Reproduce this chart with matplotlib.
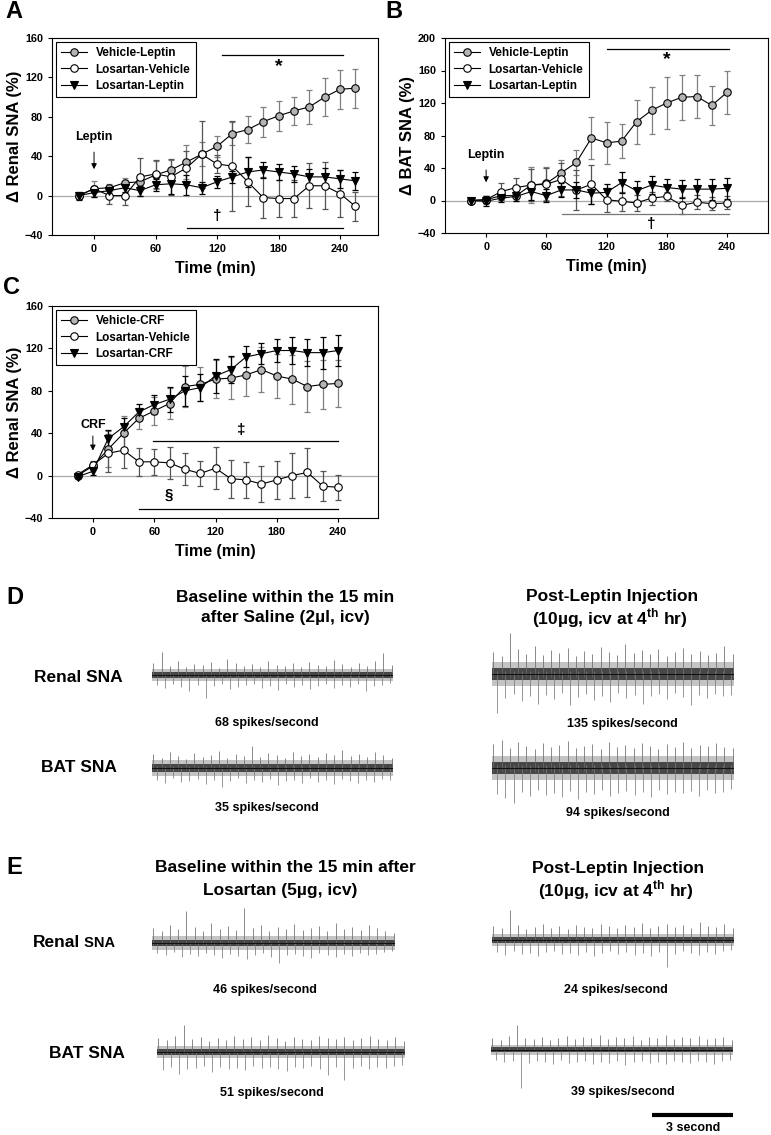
import matplotlib.pyplot as plt
import numpy as np

plt.rcParams['font.family'] = ['Liberation Sans', 'DejaVu Sans']
plt.rcParams['font.weight'] = 'bold'
plt.rcParams['axes.labelweight'] = 'bold'
plt.rcParams['mathtext.fontset'] = 'custom'
plt.rcParams['mathtext.rm'] = 'Liberation Sans:bold'
plt.rcParams['mathtext.bf'] = 'Liberation Sans:bold'

# ---- group data (percent change, mean and SEM) ----
time_a = [-15, 0, 15, 30, 45, 60, 75, 90, 105, 120, 135, 150, 165, 180, 195, 210, 225, 240, 255]
a_veh_lep = [0, 7, 8, 13, 14, 21, 26, 34, 42, 50, 63, 67, 75, 81, 86, 90, 100, 108, 109]
a_veh_lep_err = [0, 8, 4, 5, 8, 14, 10, 17, 12, 11, 12, 14, 15, 15, 14, 17, 19, 20, 20]
a_los_veh = [0, 7, 0, 0, 19, 22, 19, 28, 42, 32, 30, 14, -2, -3, -3, 10, 10, 2, -11]
a_los_veh_err = [0, 3, 9, 10, 19, 14, 18, 17, 34, 9, 46, 25, 21, 19, 19, 23, 24, 24, 15]
a_los_lep = [0, 3, 5, 8, 5, 11, 12, 11, 8, 14, 19, 24, 26, 24, 22, 19, 19, 17, 15]
a_los_lep_err = [4, 4, 5, 4, 5, 6, 10, 10, 6, 6, 6, 15, 8, 8, 8, 8, 9, 9, 9]

time_bc = [-15, 0, 15, 30, 45, 60, 75, 90, 105, 120, 135, 150, 165, 180, 195, 210, 225, 240]
b_veh_lep = [0, 1, 6, 6, 19, 21, 34, 47, 77, 71, 73, 97, 111, 120, 127, 128, 117, 133]
b_veh_lep_err = [0, 5, 5, 6, 22, 20, 16, 15, 26, 26, 21, 27, 29, 32, 28, 26, 24, 27]
b_los_veh = [0, 1, 11, 16, 19, 20, 26, 13, 20, 1, -1, -3, 3, 5, -6, -2, -4, -3]
b_los_veh_err = [0, 4, 10, 12, 20, 20, 20, 25, 24, 15, 12, 10, 8, 6, 10, 9, 8, 8]
b_los_lep = [0, -1, 3, 5, 11, 6, 13, 13, 9, 10, 22, 12, 19, 16, 14, 14, 14, 15]
b_los_lep_err = [0, 6, 5, 6, 10, 8, 9, 10, 13, 10, 13, 12, 11, 11, 11, 12, 13, 13]

c_veh_crf = [0, 9, 25, 40, 54, 61, 68, 84, 86, 91, 92, 95, 100, 94, 91, 84, 86, 87]
c_veh_crf_err = [0, 4, 17, 16, 10, 13, 15, 19, 16, 18, 20, 20, 21, 21, 23, 24, 23, 22]
c_los_veh = [1, 10, 21, 24, 13, 13, 12, 6, 2, 7, -3, -4, -8, -4, 0, 3, -10, -11]
c_los_veh_err = [0, 4, 18, 17, 13, 12, 15, 15, 12, 20, 18, 17, 17, 18, 21, 23, 14, 12]
c_los_crf = [-1, 4, 35, 46, 60, 67, 72, 80, 83, 94, 100, 112, 115, 118, 118, 116, 116, 118]
c_los_crf_err = [0, 3, 8, 8, 8, 9, 12, 14, 13, 16, 13, 10, 10, 11, 13, 13, 15, 15]

# significance bars: (start, end, y, symbol, symbol x, symbol y, colour)
sig_a = [(125, 243, 143, '*', 180, 131, 'k'), (91, 243, -32.5, '\u2020', 120, -21, 'k')]
sig_b = [(120, 242, 187, '*', 180, 174, 'k'), (76, 242, -16.5, '\u2020', 165, -29, '#777777')]
sig_c = [(59, 240, 33, '\u2021', 145, 43, 'k'), (45, 240, -31.7, '\u00a7', 74, -18, 'k')]

# ---- nerve recordings (9 s sweeps, spike amplitudes in a.u.) ----
trace_sec = 9.0
d_renal_base_up = [12, 23, 9, 14, 8, 11, 10, 13, 7, 16, 12, 9, 11, 8, 14, 10, 9, 12, 8, 13, 10, 9, 15, 11, 8, 12, 9, 14, 22, 10]
d_renal_base_dn = [10, 13, 9, 12, 16, 10, 23, 11, 9, 14, 12, 10, 9, 13, 11, 15, 9, 12, 10, 14, 11, 9, 13, 10, 12, 9, 16, 11, 10, 8]
d_bat_base_up = [14, 10, 16, 12, 9, 15, 11, 13, 17, 10, 14, 12, 22, 11, 15, 13, 10, 16, 12, 14, 11, 15, 13, 18, 12, 14, 11, 16, 13, 10]
d_bat_base_dn = [12, 15, 10, 14, 13, 11, 16, 12, 19, 13, 10, 15, 12, 14, 11, 17, 13, 12, 15, 10, 14, 12, 16, 11, 13, 15, 12, 14, 11, 12]
d_renal_post_up = [22, 18, 41, 25, 20, 28, 19, 24, 21, 26, 18, 23, 20, 27, 22, 19, 30, 21, 24, 20, 25, 18, 22, 26, 20, 23, 19, 21, 28, 20]
d_renal_post_dn = [39, 24, 20, 27, 22, 30, 21, 25, 19, 31, 23, 20, 26, 22, 28, 19, 24, 21, 30, 22, 20, 25, 19, 23, 31, 21, 24, 20, 22, 21]
d_bat_post_up = [24, 28, 20, 26, 22, 19, 25, 21, 23, 27, 20, 22, 24, 19, 26, 21, 23, 20, 25, 22, 19, 24, 21, 26, 20, 23, 22, 25, 21, 20]
d_bat_post_dn = [26, 30, 35, 24, 28, 22, 27, 25, 29, 23, 31, 24, 26, 22, 28, 25, 23, 27, 24, 29, 22, 26, 24, 25, 23, 28, 22, 25, 24, 21]
e_renal_base_up = [15, 12, 18, 14, 32, 16, 12, 20, 14, 17, 13, 35, 15, 18, 12, 16, 14, 19, 13, 15, 17, 12, 20, 14, 16, 13, 18, 15, 12, 10]
e_renal_base_dn = [10, 12, 9, 14, 11, 13, 10, 12, 15, 11, 13, 16, 12, 10, 14, 20, 12, 11, 13, 15, 10, 12, 14, 11, 13, 10, 12, 11, 9, 8]
e_bat_base_up = [14, 12, 16, 27, 13, 15, 11, 14, 12, 16, 13, 15, 12, 17, 14, 11, 15, 13, 12, 16, 14, 13, 15, 12, 14, 16, 13, 12, 15, 11]
e_bat_base_dn = [18, 15, 22, 17, 16, 14, 20, 15, 17, 16, 18, 14, 16, 15, 17, 19, 15, 16, 14, 17, 23, 15, 28, 16, 14, 17, 15, 16, 14, 13]
e_renal_post_up = [14, 12, 30, 15, 11, 13, 16, 12, 14, 11, 15, 13, 12, 16, 14, 12, 15, 13, 17, 12, 14, 16, 13, 15, 12, 18, 14, 13, 16, 12]
e_renal_post_dn = [12, 15, 11, 14, 13, 16, 12, 11, 14, 13, 15, 12, 16, 13, 11, 14, 12, 15, 13, 16, 12, 27, 14, 11, 13, 15, 12, 14, 11, 10]
e_bat_post_up = [12, 10, 14, 25, 12, 11, 13, 10, 12, 14, 11, 13, 12, 15, 11, 13, 12, 14, 10, 13, 12, 15, 11, 13, 12, 14, 11, 12, 13, 10]
e_bat_post_dn = [10, 12, 11, 38, 13, 11, 12, 14, 10, 13, 12, 11, 14, 12, 13, 11, 15, 12, 11, 13, 12, 14, 11, 12, 13, 11, 12, 14, 11, 10]
spike_rates = {'d_renal_base': 68, 'd_renal_post': 135, 'd_bat_base': 35, 'd_bat_post': 94,
               'e_renal_base': 46, 'e_renal_post': 24, 'e_bat_base': 51, 'e_bat_post': 39}

W, H = 771, 1135
fig = plt.figure(figsize=(W / 100, H / 100), dpi=100)


def box(l, t, r, b):
    # pixel box -> figure fraction
    return [l / W, 1 - b / H, (r - l) / W, (b - t) / H]


def ftext(x, y, s, **kw):
    kw.setdefault('ha', 'center')
    kw.setdefault('va', 'center')
    return fig.text(x / W, 1 - y / H, s, **kw)


styles = {
    'veh': dict(marker='o', mfc='#b4b4b4', mec='k', ecolor='#808080'),
    'losveh': dict(marker='o', mfc='white', mec='k', ecolor='#555555'),
    'loslep': dict(marker='v', mfc='k', mec='k', ecolor='k'),
}


def panel(rect, t, series, xlim, ylim, ylabel, sig, drug, drug_y, arrow_y):
    ax = fig.add_axes(box(*rect))
    ax.axhline(0, color='#a8a8a8', lw=0.9, zorder=1)
    handles = []
    for y, e, label, key in series:
        st = styles[key]
        ax.errorbar(t, y, yerr=e, fmt='none', ecolor=st['ecolor'], elinewidth=0.9,
                    capsize=2.5, capthick=0.9, zorder=2)
    for y, e, label, key in series:
        st = styles[key]
        h, = ax.plot(t, y, '-', color='k', lw=0.8, marker=st['marker'], ms=5.4,
                     mfc=st['mfc'], mec=st['mec'], mew=0.8, label=label, zorder=3)
        handles.append(h)
    for x0, x1, yy, sym, sx, sy, col in sig:
        ax.plot([x0, x1], [yy, yy], color=col, lw=0.9)
        ax.text(sx, sy, sym, ha='center', va='center', fontsize=14 if sym == '*' else 11)
    ax.text(0, drug_y, drug, ha='center', va='center', fontsize=9)
    ax.annotate('', xy=(0, arrow_y[1]), xytext=(0, arrow_y[0]),
                arrowprops=dict(arrowstyle='-|>', color='k', lw=0.7, mutation_scale=8))
    ax.set_xlim(*xlim)
    ax.set_ylim(ylim[0], ylim[1])
    ax.set_yticks(np.arange(ylim[0], ylim[1] + 1, 40))
    ax.set_xticks([0, 60, 120, 180, 240])
    ax.tick_params(direction='out', length=3, width=0.8, labelsize=7.8)
    for sp in ax.spines.values():
        sp.set_linewidth(0.8)
    ax.set_ylabel(ylabel, fontsize=12, labelpad=1.5)
    ax.set_xlabel('Time (min)', fontsize=11.5, labelpad=5)
    leg = ax.legend(handles=handles, loc='upper left', fontsize=8.5, frameon=True, fancybox=False,
                    edgecolor='k', framealpha=1, borderaxespad=0.35, handlelength=2.2,
                    handletextpad=0.7, labelspacing=0.35, borderpad=0.45)
    leg.get_frame().set_linewidth(0.8)
    return ax


panel((52, 38, 378, 235), time_a,
      [(a_veh_lep, a_veh_lep_err, 'Vehicle-Leptin', 'veh'),
       (a_los_veh, a_los_veh_err, 'Losartan-Vehicle', 'losveh'),
       (a_los_lep, a_los_lep_err, 'Losartan-Leptin', 'loslep')],
      (-41, 277), (-40, 160), '\u0394 Renal SNA (%)', sig_a, 'Leptin', 59, (47, 24))
panel((445, 38, 768, 233), time_bc,
      [(b_veh_lep, b_veh_lep_err, 'Vehicle-Leptin', 'veh'),
       (b_los_veh, b_los_veh_err, 'Losartan-Vehicle', 'losveh'),
       (b_los_lep, b_los_lep_err, 'Losartan-Leptin', 'loslep')],
      (-41, 281), (-40, 200), '\u0394 BAT SNA (%)', sig_b, 'Leptin', 56, (41, 19))
panel((52, 306, 378, 518), time_bc,
      [(c_veh_crf, c_veh_crf_err, 'Vehicle-CRF', 'veh'),
       (c_los_veh, c_los_veh_err, 'Losartan-Vehicle', 'losveh'),
       (c_los_crf, c_los_crf_err, 'Losartan-CRF', 'loslep')],
      (-40, 279), (-40, 160), '\u0394 Renal SNA (%)', sig_c, 'CRF', 48, (40, 21))


def trace(l, r, yc, up, dn, core, fringe):
    ax = fig.add_axes(box(l, yc - 50, r, yc + 50))
    ax.set_xlim(0, trace_sec)
    ax.set_ylim(-50, 50)
    ax.axis('off')
    ax.fill_between([0, trace_sec], -fringe, fringe, color='#c4c4c4', lw=0)
    tu = np.linspace(0.05, trace_sec - 0.05, len(up))
    td = np.linspace(0.2, trace_sec - 0.1, len(dn))
    ax.vlines(tu, -0.5 * core, up, color='#6a6a6a', lw=0.55)
    ax.vlines(td, -np.array(dn), 0.5 * core, color='#7a7a7a', lw=0.55)
    ax.fill_between([0, trace_sec], -core, core, color='#3a3a3a', lw=0, alpha=0.9)
    ax.plot([0, trace_sec], [0, 0], color='#111111', lw=0.8)
    return ax


trace(152, 393, 675, d_renal_base_up, d_renal_base_dn, 3, 6)
trace(152, 393, 768, d_bat_base_up, d_bat_base_dn, 4, 8)
trace(492, 734, 674, d_renal_post_up, d_renal_post_dn, 6, 12)
trace(492, 734, 768, d_bat_post_up, d_bat_post_dn, 6, 12)
trace(152, 395, 943, e_renal_base_up, e_renal_base_dn, 3, 7)
trace(157, 405, 1052, e_bat_base_up, e_bat_base_dn, 3, 6)
trace(492, 734, 940, e_renal_post_up, e_renal_post_dn, 3, 6)
trace(491, 733, 1050, e_bat_post_up, e_bat_post_dn, 2.5, 5)

# 3 s scale bar
sb = fig.add_axes(box(491, 1105, 733, 1125))
sb.set_xlim(0, trace_sec)
sb.set_ylim(-1, 1)
sb.axis('off')
sb.hlines(0, trace_sec - 3, trace_sec, color='k', lw=3)
ftext(693, 1128, '3 second', fontsize=9)

# panel letters
for lt, x, y in [('A', 14, 12), ('B', 394, 12), ('C', 12, 288), ('D', 15, 597), ('E', 14, 868)]:
    ftext(x, y, lt, fontsize=17)

# panel D/E headers
sup = r'(10' + '\u00b5' + r'g, icv at 4$^{\mathbf{th}}$ hr)'
ftext(285, 597, 'Baseline within the 15 min', fontsize=12.5)
ftext(285, 618, 'after Saline (2\u00b5l, icv)', fontsize=12.5)
ftext(612, 597, 'Post-Leptin Injection', fontsize=12.5)
ftext(610, 618, sup, fontsize=12.5)
ftext(285, 868, 'Baseline within the 15 min after', fontsize=12.5)
ftext(280, 890, 'Losartan (5\u00b5g, icv)', fontsize=12.5)
ftext(618, 868, 'Post-Leptin Injection', fontsize=12.5)
ftext(616, 890, sup, fontsize=12.5)

ftext(78, 677, 'Renal SNA', fontsize=12.5)
ftext(79, 768, 'BAT SNA', fontsize=12.5)
renal = ftext(33, 947, 'Renal', fontsize=12.5, ha='left', va='baseline')
overlay = fig.add_axes([0, 0, 1, 1], zorder=-1)
overlay.axis('off')
overlay.annotate(' SNA', xy=(1, 0), xycoords=renal, ha='left', va='bottom', fontsize=10.5)
ftext(87, 1053, 'BAT SNA', fontsize=12.5)

for key, x, y in [('d_renal_base', 267, 723), ('d_renal_post', 622, 724),
                  ('d_bat_base', 267, 808), ('d_bat_post', 618, 813),
                  ('e_renal_base', 265, 990), ('e_renal_post', 616, 990),
                  ('e_bat_base', 272, 1093), ('e_bat_post', 623, 1092)]:
    ftext(x, y, '%d spikes/second' % spike_rates[key], fontsize=9)

fig.savefig('out.png', dpi=100)
